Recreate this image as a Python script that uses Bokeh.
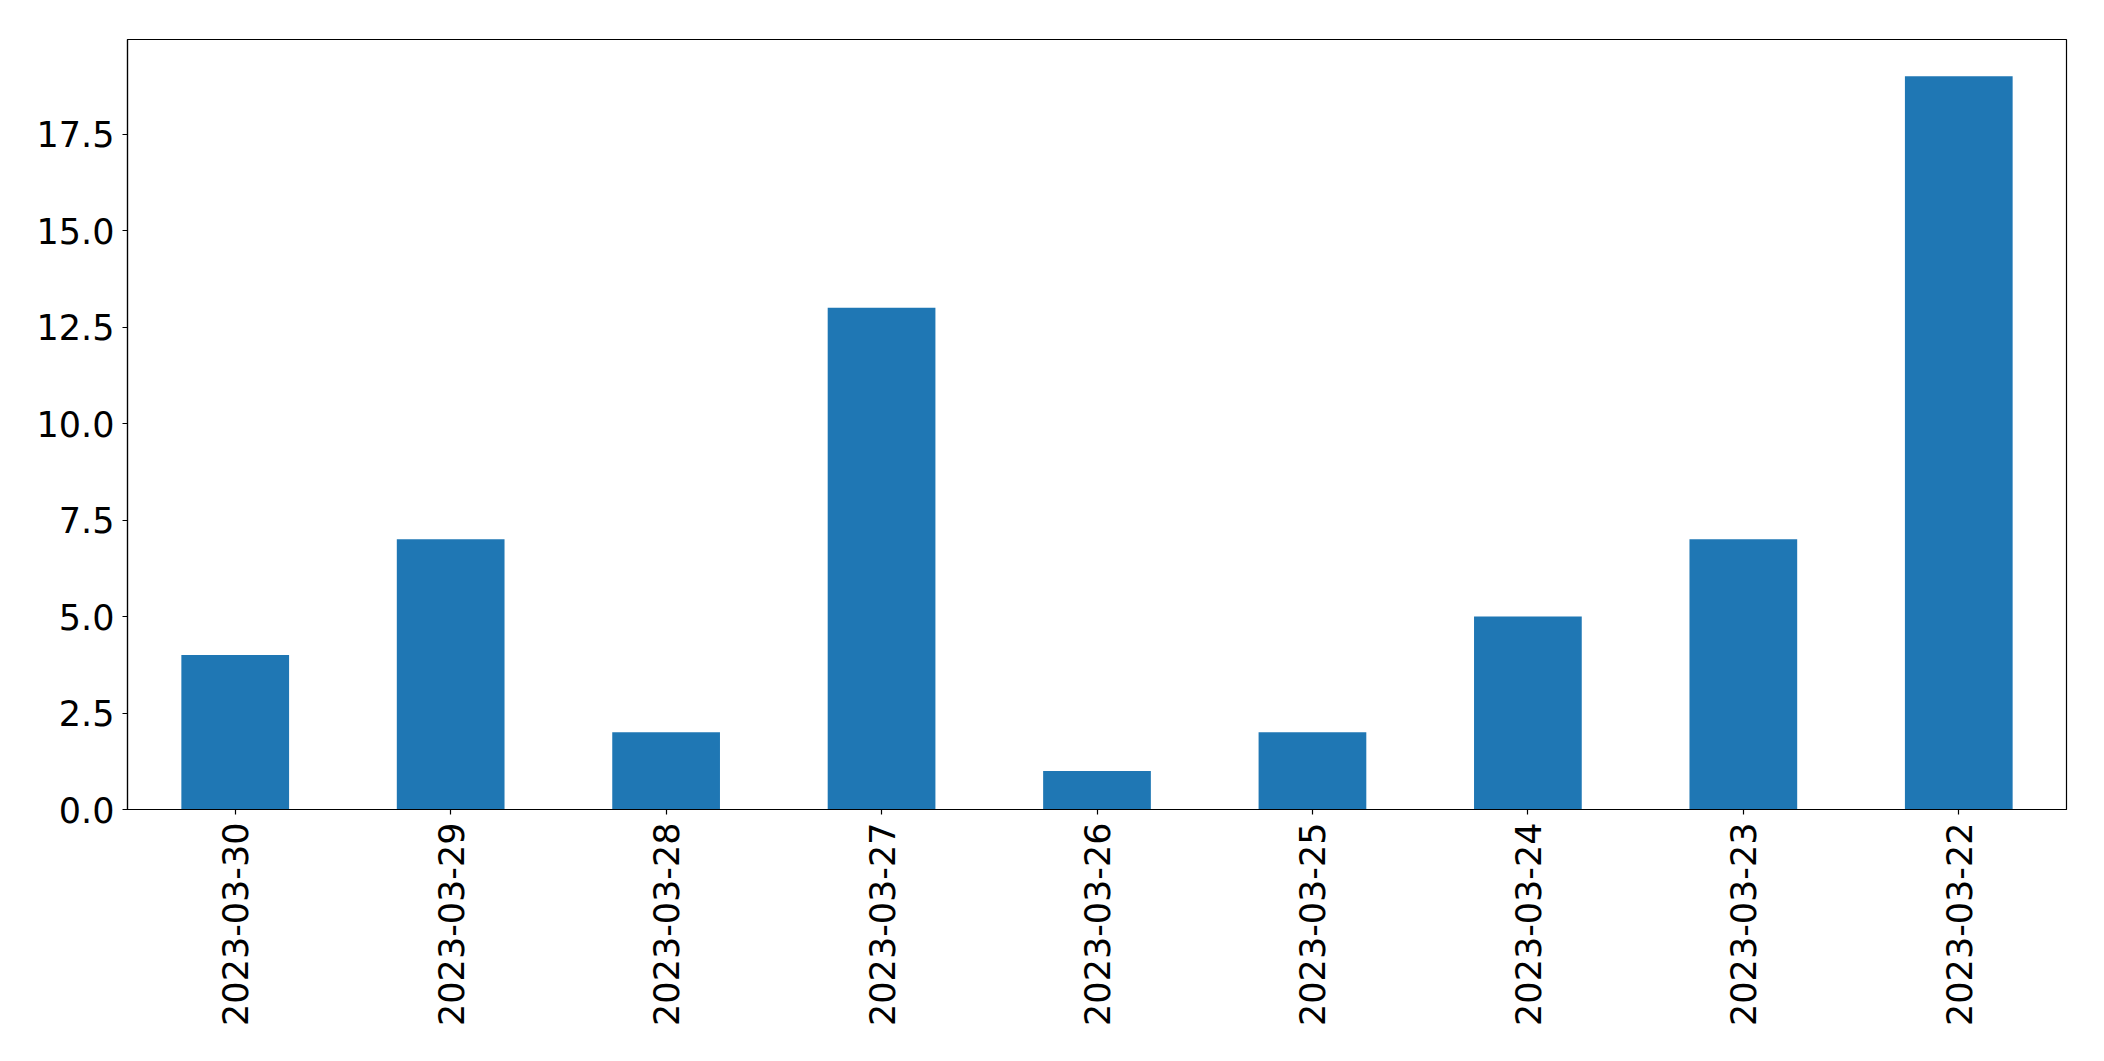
import math
from bokeh.plotting import figure
from bokeh.models import FactorRange, Range1d, FixedTicker, PrintfTickFormatter
from bokeh.embed import file_html
from bokeh.resources import INLINE

dates = ["2023-03-30", "2023-03-29", "2023-03-28", "2023-03-27", "2023-03-26",
         "2023-03-25", "2023-03-24", "2023-03-23", "2023-03-22"]
counts = [4, 7, 2, 13, 1, 2, 5, 7, 19]
y_ticks = [0, 2.5, 5.0, 7.5, 10.0, 12.5, 15.0, 17.5]

p = figure(width=2080, height=1040, x_range=FactorRange(factors=dates, range_padding=0),
           y_range=Range1d(0, 19.95), output_backend="svg", toolbar_location=None,
           min_border_left=127, min_border_right=14, min_border_top=39, min_border_bottom=231)

p.vbar(x=dates, top=counts, width=0.5, fill_color="#1f77b4", line_color=None)

p.grid.visible = False
p.outline_line_color = "black"
p.outline_line_width = 1.2
p.background_fill_color = "white"
p.border_fill_color = "white"

font = "DejaVu Sans"
for ax in (p.xaxis[0], p.yaxis[0]):
    ax.axis_line_color = "black"
    ax.axis_line_width = 1.2
    ax.major_tick_line_color = "black"
    ax.major_tick_line_width = 1.2
    ax.major_tick_out = 5
    ax.major_tick_in = 0
    ax.minor_tick_line_color = None
    ax.major_label_text_font = font
    ax.major_label_text_font_size = "35px"
    ax.major_label_text_color = "black"
    ax.major_label_standoff = 8

p.yaxis[0].ticker = FixedTicker(ticks=y_ticks)
p.yaxis[0].formatter = PrintfTickFormatter(format="%.1f")
p.xaxis[0].major_label_orientation = math.pi / 2
p.xaxis[0].group_text_font_size = "0px"

open("out.html", "w").write(file_html(p, INLINE))
